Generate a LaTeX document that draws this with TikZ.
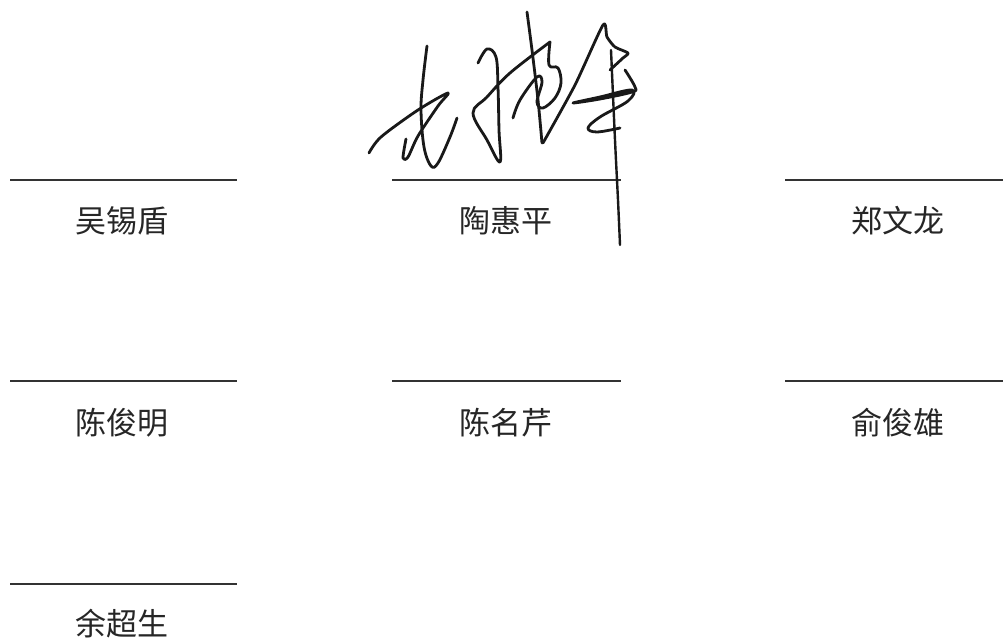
\documentclass[tikz,border=0pt]{standalone}
\usepackage{fontspec}
\newfontfamily\cjk{Noto Sans CJK SC}
\begin{document}
\begin{tikzpicture}[x=0.5pt,y=-0.5pt,
  signline/.style={draw=black!80,line width=1pt},
  signame/.style={font=\cjk\fontsize{15.5pt}{18pt}\selectfont,text=black!85,inner sep=0pt},
  pen/.style={draw=black!90,line width=1.4pt,line cap=round,line join=round}]
\useasboundingbox[fill=white] (0,0) rectangle (1003,640);
% signature lines
\draw[signline] (10,180) -- (237,180);
\draw[signline] (392,180) -- (621,180);
\draw[signline] (785,180) -- (1003,180);
\draw[signline] (10,381) -- (237,381);
\draw[signline] (392,381) -- (621,381);
\draw[signline] (785,381) -- (1003,381);
\draw[signline] (10,584) -- (237,584);
% names
\node[signame] (n1) at (122,221) {吴锡盾};
\node[signame] (n2) at (506,221) {陶惠平};
\node[signame] (n3) at (898,221) {郑文龙};
\node[signame] (n4) at (122,423) {陈俊明};
\node[signame] (n5) at (506,423) {陈名芹};
\node[signame] (n6) at (898,423) {俞俊雄};
\node[signame] (n7) at (122,624) {余超生};
% handwritten signature
\draw[pen] plot[smooth,tension=0.5] coordinates {(369,153) (381,137) (418,110) (448,93) (438,106) (418,136) (408,157) (403,158) (406,139)};
\draw[pen] plot[smooth,tension=0.6] coordinates {(427,46) (423,80) (421,110) (424,147) (431,166) (438,163) (450,137) (457,118)};
\draw[pen] plot[smooth,tension=0.6] coordinates {(478,63) (487,49) (496,57) (498,87) (499,130) (500,162) (487,140) (473,113) (487,97) (510,73) (550,42)};
\draw[pen] plot[smooth,tension=0.5] coordinates {(527,12) (532,50) (538,100) (542,143)};
\draw[pen] plot[smooth,tension=0.6] coordinates {(550,42) (549,65) (558,68) (561,83) (555,98) (543,108) (537,102) (542,82) (537,77) (520,100) (513,118)};
\draw[pen] plot[smooth,tension=0.4] coordinates {(543,143) (575,85) (603,25) (607,37) (615,47) (628,53) (623,58) (610,70)};
\draw[pen] plot[smooth,tension=0.6] coordinates {(625,70) (635,87) (632,92) (600,99) (573,103) (600,97) (632,90) (628,101) (600,117) (588,128) (597,132) (620,128)};
\draw[pen,line width=1.2pt] plot[smooth,tension=0.5] coordinates {(611,50) (615,140) (618,200) (620,245)};
\end{tikzpicture}
\end{document}
